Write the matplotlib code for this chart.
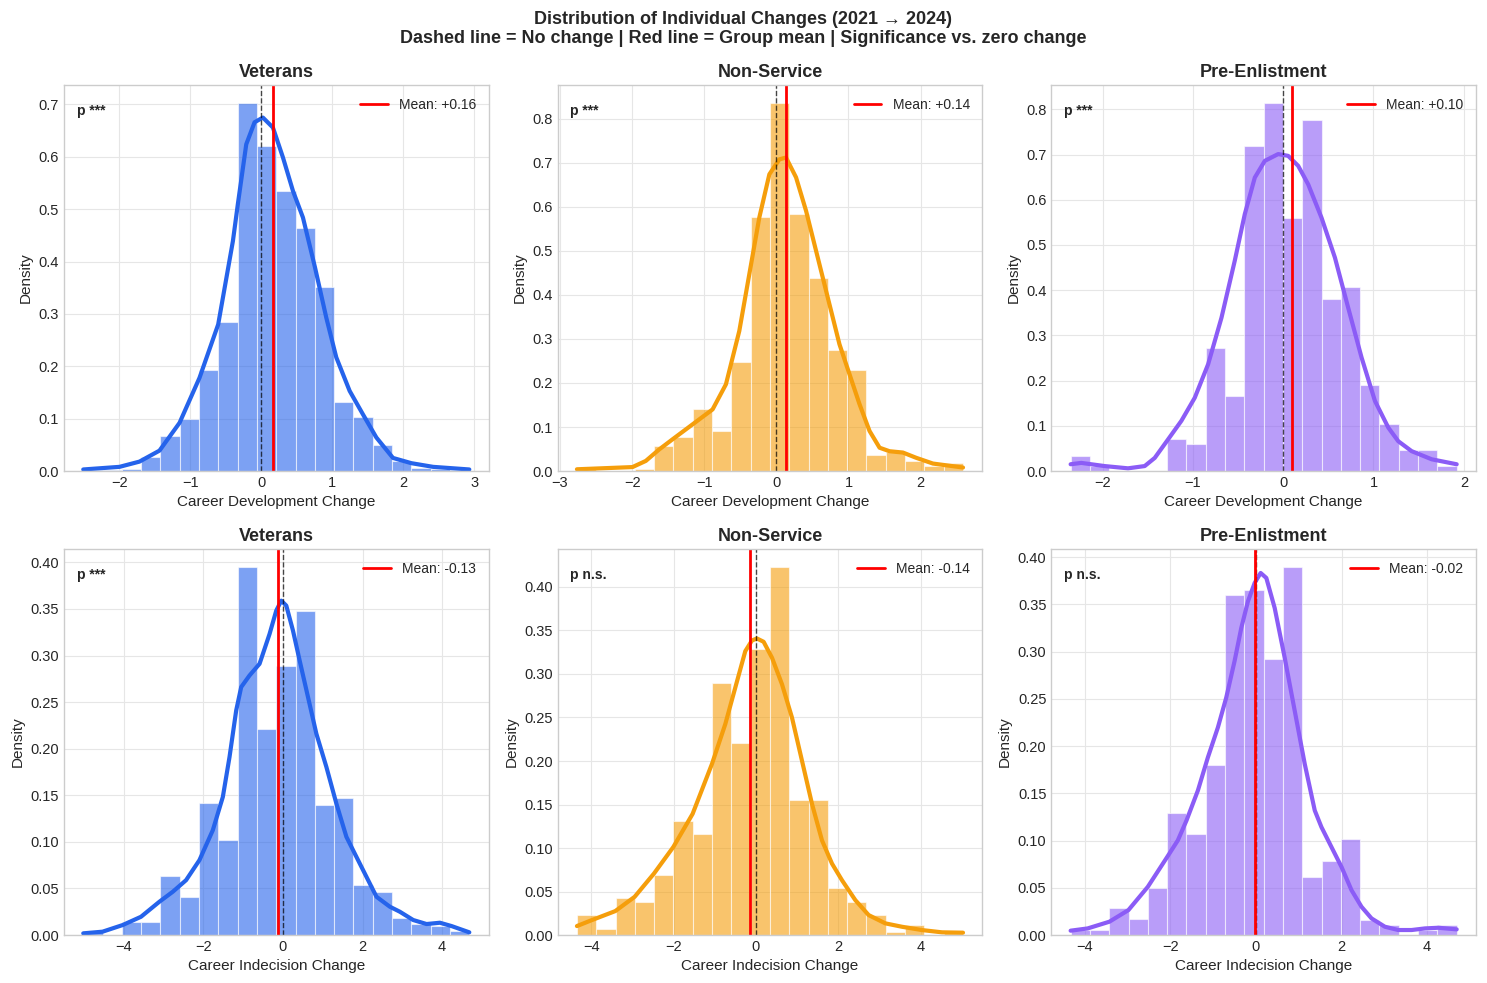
import numpy as np
import matplotlib
matplotlib.use("Agg")
import matplotlib.pyplot as plt

plt.style.use("seaborn-v0_8-whitegrid")
plt.rcParams["font.family"] = ["Liberation Sans", "DejaVu Sans"]

# ---------------- data ----------------
groups = ["Veterans", "Non-Service", "Pre-Enlistment"]
colors = ["#2563eb", "#f59e0b", "#8b5cf6"]
outcomes = ["Career Development Change", "Career Indecision Change"]

# Career Development (top row)
vet_cd_range = (-2.505, 2.928)
vet_cd_density = [0.002, 0.002, 0.003, 0.027, 0.066, 0.099, 0.192, 0.285, 0.702, 0.621,
                  0.534, 0.464, 0.352, 0.131, 0.104, 0.049, 0.019, 0.006, 0.003, 0.002]
vet_cd_kde_x = [-2.505, -1.995, -1.714, -1.432, -1.150, -0.869, -0.606, -0.399, -0.329, -0.211,
                -0.094, 0.023, 0.164, 0.305, 0.446, 0.587, 0.756, 0.915, 1.056, 1.244,
                1.432, 1.620, 1.854, 2.113, 2.418, 2.928]
vet_cd_kde_y = [0.003, 0.008, 0.018, 0.039, 0.092, 0.178, 0.280, 0.439, 0.510, 0.624,
                0.666, 0.675, 0.656, 0.599, 0.535, 0.484, 0.389, 0.293, 0.217, 0.153,
                0.108, 0.064, 0.025, 0.015, 0.008, 0.003]
vet_cd_mean = 0.16
vet_cd_sig = "***"

ns_cd_range = (-2.765, 2.588)
ns_cd_density = [0.004, 0.0, 0.0, 0.005, 0.058, 0.078, 0.140, 0.092, 0.248, 0.576,
                 0.835, 0.583, 0.439, 0.276, 0.229, 0.037, 0.043, 0.023, 0.012, 0.018]
ns_cd_kde_x = [-2.765, -1.995, -1.810, -1.625, -1.440, -1.162, -0.884, -0.699, -0.514, -0.375,
               -0.236, -0.097, 0.042, 0.134, 0.273, 0.412, 0.551, 0.690, 0.875, 1.014,
               1.153, 1.292, 1.431, 1.569, 1.755, 1.940, 2.171, 2.588]
ns_cd_kde_y = [0.004, 0.009, 0.023, 0.049, 0.072, 0.106, 0.140, 0.197, 0.318, 0.447,
               0.576, 0.674, 0.708, 0.712, 0.667, 0.591, 0.500, 0.409, 0.288, 0.220,
               0.152, 0.091, 0.053, 0.045, 0.042, 0.030, 0.017, 0.008]
ns_cd_mean = 0.14
ns_cd_sig = "***"

pre_cd_range = (-2.353, 1.921)
pre_cd_density = [0.033, 0.012, 0.0, 0.0, 0.0, 0.070, 0.059, 0.273, 0.166, 0.718,
                  0.813, 0.560, 0.777, 0.381, 0.406, 0.190, 0.105, 0.046, 0.046, 0.012]
pre_cd_kde_x = [-2.353, -2.235, -1.976, -1.718, -1.533, -1.422, -1.274, -1.127, -0.979, -0.831,
                -0.683, -0.536, -0.425, -0.314, -0.203, -0.055, 0.055, 0.166, 0.277, 0.425,
                0.573, 0.720, 0.868, 1.016, 1.164, 1.274, 1.422, 1.644, 1.921]
pre_cd_kde_y = [0.015, 0.018, 0.011, 0.006, 0.011, 0.029, 0.070, 0.111, 0.162, 0.236,
                0.339, 0.465, 0.568, 0.649, 0.686, 0.701, 0.697, 0.675, 0.634, 0.560,
                0.472, 0.361, 0.251, 0.155, 0.096, 0.066, 0.044, 0.026, 0.015]
pre_cd_mean = 0.10
pre_cd_sig = "***"

# Career Indecision (bottom row)
vet_ci_range = (-5.02, 4.685)
vet_ci_density = [0.0045, 0.0, 0.0136, 0.0136, 0.0636, 0.0404, 0.1418, 0.1018, 0.3946, 0.2207,
                  0.2886, 0.3480, 0.1400, 0.1470, 0.0540, 0.0460, 0.0182, 0.0118, 0.0100, 0.0046]
vet_ci_kde_x = [-5.02, -4.534, -4.030, -3.568, -3.107, -2.771, -2.435, -2.099, -1.763, -1.511,
                -1.343, -1.175, -1.050, -0.840, -0.588, -0.336, -0.168, -0.042, 0.084, 0.252,
                0.420, 0.630, 0.840, 1.092, 1.343, 1.595, 1.847, 2.099, 2.351, 2.687,
                2.939, 3.275, 3.610, 3.946, 4.240, 4.685]
vet_ci_kde_y = [0.0018, 0.0036, 0.0107, 0.0196, 0.0357, 0.0464, 0.0589, 0.0804, 0.1125, 0.1482,
                0.1911, 0.2411, 0.2661, 0.2786, 0.2911, 0.3232, 0.3482, 0.3589, 0.3536, 0.3268,
                0.2946, 0.2554, 0.2161, 0.1804, 0.1411, 0.1054, 0.0839, 0.0625, 0.0411, 0.0304,
                0.0250, 0.0161, 0.0118, 0.0132, 0.0096, 0.0029]
vet_ci_mean = -0.13
vet_ci_sig = "***"

ns_ci_range = (-4.348, 5.028)
ns_ci_density = [0.0229, 0.0069, 0.0427, 0.0382, 0.0695, 0.1309, 0.1160, 0.2901, 0.2202, 0.3290,
                 0.4225, 0.1553, 0.1553, 0.0542, 0.0382, 0.0229, 0.0036, 0.0116, 0.0, 0.0036]
ns_ci_kde_x = [-4.348, -3.984, -3.417, -2.947, -2.478, -2.008, -1.538, -1.069, -0.745, -0.502,
               -0.259, -0.097, 0.024, 0.186, 0.389, 0.632, 0.874, 1.117, 1.360, 1.603,
               1.846, 2.089, 2.413, 2.737, 3.142, 3.547, 4.032, 4.518, 5.028]
ns_ci_kde_y = [0.0103, 0.0172, 0.0275, 0.0439, 0.0706, 0.1011, 0.1393, 0.1966, 0.2424, 0.2844,
               0.3263, 0.3385, 0.3408, 0.3370, 0.3187, 0.2882, 0.2500, 0.2004, 0.1508, 0.1088,
               0.0821, 0.0630, 0.0401, 0.0229, 0.0134, 0.0095, 0.0057, 0.0031, 0.0027]
ns_ci_mean = -0.14
ns_ci_sig = "n.s."

pre_ci_range = (-4.333, 4.692)
pre_ci_density = [0.0053, 0.0053, 0.0281, 0.0165, 0.0499, 0.1290, 0.1069, 0.1797, 0.3604, 0.3653,
                  0.2925, 0.3892, 0.0615, 0.0788, 0.1020, 0.0160, 0.0105, 0.0, 0.0053, 0.0105]
pre_ci_kde_x = [-4.333, -3.934, -3.427, -2.982, -2.529, -2.076, -1.827, -1.624, -1.358, -1.124,
                -0.890, -0.695, -0.500, -0.343, -0.187, -0.031, 0.109, 0.242, 0.437, 0.671,
                0.906, 1.140, 1.374, 1.530, 1.764, 1.999, 2.233, 2.467, 2.701, 3.013,
                3.326, 3.638, 3.950, 4.262, 4.692]
pre_ci_kde_y = [0.0046, 0.0070, 0.0141, 0.0264, 0.0510, 0.0826, 0.1002, 0.1213, 0.1530, 0.1881,
                0.2198, 0.2514, 0.2901, 0.3252, 0.3534, 0.3727, 0.3833, 0.3780, 0.3463, 0.2936,
                0.2373, 0.1811, 0.1319, 0.1143, 0.0932, 0.0721, 0.0475, 0.0299, 0.0176, 0.0088,
                0.0053, 0.0053, 0.0070, 0.0077, 0.0060]
pre_ci_mean = -0.02
pre_ci_sig = "n.s."

panels = [
    [(vet_cd_range, vet_cd_density, vet_cd_kde_x, vet_cd_kde_y, vet_cd_mean, vet_cd_sig),
     (ns_cd_range, ns_cd_density, ns_cd_kde_x, ns_cd_kde_y, ns_cd_mean, ns_cd_sig),
     (pre_cd_range, pre_cd_density, pre_cd_kde_x, pre_cd_kde_y, pre_cd_mean, pre_cd_sig)],
    [(vet_ci_range, vet_ci_density, vet_ci_kde_x, vet_ci_kde_y, vet_ci_mean, vet_ci_sig),
     (ns_ci_range, ns_ci_density, ns_ci_kde_x, ns_ci_kde_y, ns_ci_mean, ns_ci_sig),
     (pre_ci_range, pre_ci_density, pre_ci_kde_x, pre_ci_kde_y, pre_ci_mean, pre_ci_sig)],
]

# ---------------- figure ----------------
fig, axes = plt.subplots(2, 3, figsize=(14.87, 9.83), dpi=100)
fig.subplots_adjust(left=0.043, right=0.9926, bottom=0.0488, top=0.9135,
                    wspace=0.1625, hspace=0.202)

for r in range(2):
    for c in range(3):
        ax = axes[r, c]
        rng, dens, kx, ky, mean, sig = panels[r][c]
        col = colors[c]
        edges = np.linspace(rng[0], rng[1], len(dens) + 1)
        ax.bar(edges[:-1], dens, width=np.diff(edges), align="edge",
               color=col, alpha=0.6, edgecolor="white", linewidth=0.8)
        ax.plot(kx, ky, color=col, linewidth=3, solid_joinstyle="round",
                solid_capstyle="round")
        ax.axvline(0, color="black", linestyle="--", linewidth=1, alpha=0.7)
        ax.axvline(mean, color="red", linewidth=2, label=f"Mean: {mean:+.2f}")
        ax.set_title(groups[c], fontsize=13, fontweight="bold")
        ax.set_xlabel(outcomes[r], fontsize=11)
        ax.set_ylabel("Density", fontsize=11)
        ax.tick_params(labelsize=10.5)
        ax.legend(loc="upper right", fontsize=10, frameon=False)
        ax.text(0.03, 0.95, f"p {sig}", transform=ax.transAxes, fontsize=10,
                fontweight="bold", va="top", ha="left")
        for s in ax.spines.values():
            s.set_edgecolor("#cccccc")
        ax.grid(True, color="#e6e6e6", linewidth=0.8)

fig.suptitle("Distribution of Individual Changes (2021 \u2192 2024)\n"
             "Dashed line = No change | Red line = Group mean | Significance vs. zero change",
             fontsize=13, fontweight="bold", y=0.989)

fig.savefig("out.png", dpi=100)
